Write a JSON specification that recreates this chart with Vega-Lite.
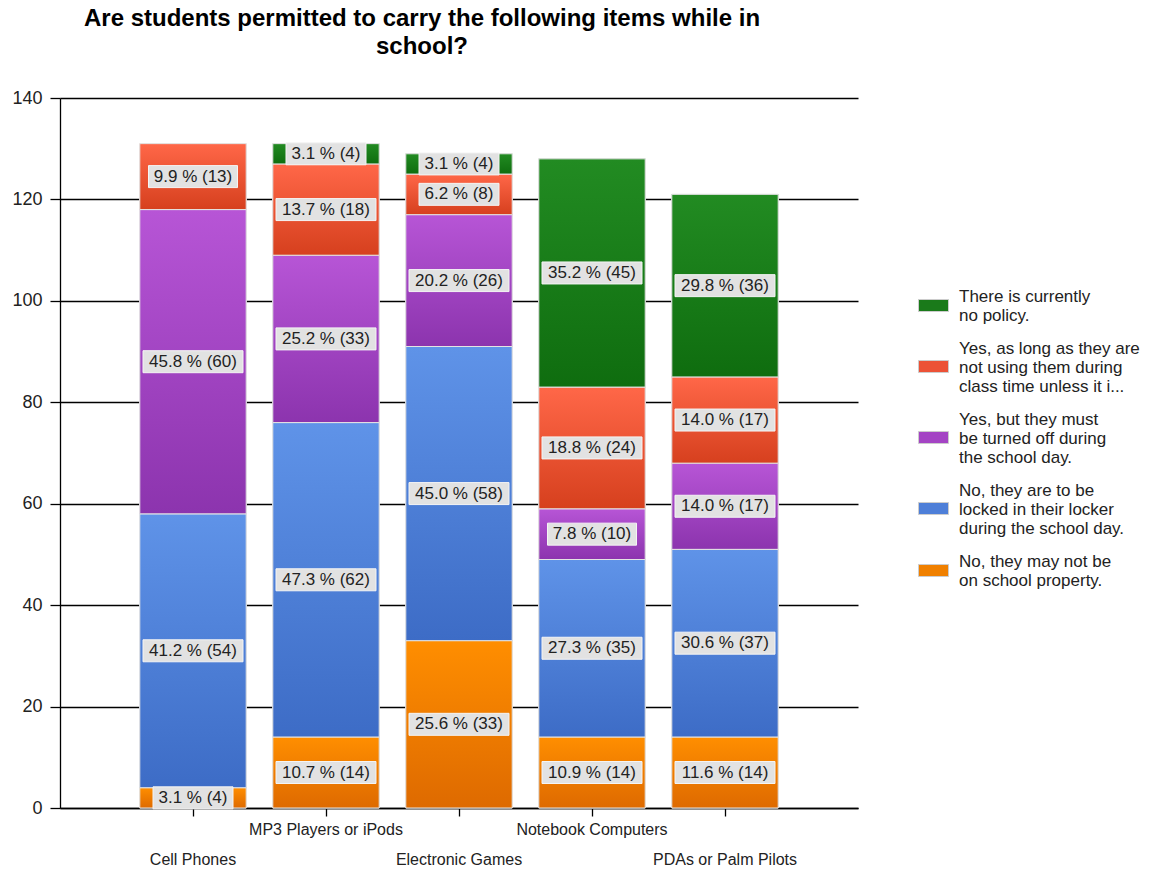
{
  "$schema": "https://vega.github.io/schema/vega-lite/v6.json",
  "width": 798,
  "height": 710,
  "autosize": {"type": "none"},
  "padding": {"left": 60, "top": 98, "right": 298, "bottom": 63},
  "background": "white",
  "title": {
    "text": ["Are students permitted to carry the following items while in", "school?"],
    "font": "Liberation Sans",
    "fontSize": 24,
    "fontWeight": "bold",
    "color": "black",
    "anchor": "middle",
    "dx": -37,
    "offset": 30,
    "lineHeight": 28
  },
  "data": {
    "values": [
      {"item": "Cell Phones", "series": "No, they may not be on school property.", "count": 4, "pct": 3.1},
      {"item": "Cell Phones", "series": "No, they are to be locked in their locker during the school day.", "count": 54, "pct": 41.2},
      {"item": "Cell Phones", "series": "Yes, but they must be turned off during the school day.", "count": 60, "pct": 45.8},
      {"item": "Cell Phones", "series": "Yes, as long as they are not using them during class time unless it i...", "count": 13, "pct": 9.9},
      {"item": "MP3 Players or iPods", "series": "No, they may not be on school property.", "count": 14, "pct": 10.7},
      {"item": "MP3 Players or iPods", "series": "No, they are to be locked in their locker during the school day.", "count": 62, "pct": 47.3},
      {"item": "MP3 Players or iPods", "series": "Yes, but they must be turned off during the school day.", "count": 33, "pct": 25.2},
      {"item": "MP3 Players or iPods", "series": "Yes, as long as they are not using them during class time unless it i...", "count": 18, "pct": 13.7},
      {"item": "MP3 Players or iPods", "series": "There is currently no policy.", "count": 4, "pct": 3.1},
      {"item": "Electronic Games", "series": "No, they may not be on school property.", "count": 33, "pct": 25.6},
      {"item": "Electronic Games", "series": "No, they are to be locked in their locker during the school day.", "count": 58, "pct": 45.0},
      {"item": "Electronic Games", "series": "Yes, but they must be turned off during the school day.", "count": 26, "pct": 20.2},
      {"item": "Electronic Games", "series": "Yes, as long as they are not using them during class time unless it i...", "count": 8, "pct": 6.2},
      {"item": "Electronic Games", "series": "There is currently no policy.", "count": 4, "pct": 3.1},
      {"item": "Notebook Computers", "series": "No, they may not be on school property.", "count": 14, "pct": 10.9},
      {"item": "Notebook Computers", "series": "No, they are to be locked in their locker during the school day.", "count": 35, "pct": 27.3},
      {"item": "Notebook Computers", "series": "Yes, but they must be turned off during the school day.", "count": 10, "pct": 7.8},
      {"item": "Notebook Computers", "series": "Yes, as long as they are not using them during class time unless it i...", "count": 24, "pct": 18.8},
      {"item": "Notebook Computers", "series": "There is currently no policy.", "count": 45, "pct": 35.2},
      {"item": "PDAs or Palm Pilots", "series": "No, they may not be on school property.", "count": 14, "pct": 11.6},
      {"item": "PDAs or Palm Pilots", "series": "No, they are to be locked in their locker during the school day.", "count": 37, "pct": 30.6},
      {"item": "PDAs or Palm Pilots", "series": "Yes, but they must be turned off during the school day.", "count": 17, "pct": 14.0},
      {"item": "PDAs or Palm Pilots", "series": "Yes, as long as they are not using them during class time unless it i...", "count": 17, "pct": 14.0},
      {"item": "PDAs or Palm Pilots", "series": "There is currently no policy.", "count": 36, "pct": 29.8}
    ]
  },
  "transform": [
    {"calculate": "indexof(['No, they may not be on school property.', 'No, they are to be locked in their locker during the school day.', 'Yes, but they must be turned off during the school day.', 'Yes, as long as they are not using them during class time unless it i...', 'There is currently no policy.'], datum.series)", "as": "k"},
    {"stack": "count", "groupby": ["item"], "sort": [{"field": "k", "order": "ascending"}], "as": ["y0", "y1"]},
    {"calculate": "(datum.y0 + datum.y1) / 2", "as": "ymid"},
    {"calculate": "format(datum.pct, '.1f') + ' % (' + datum.count + ')'", "as": "label"}
  ],
  "encoding": {
    "x": {
      "field": "item",
      "type": "nominal",
      "sort": ["Cell Phones", "MP3 Players or iPods", "Electronic Games", "Notebook Computers", "PDAs or Palm Pilots"],
      "scale": {"paddingInner": 0.2, "paddingOuter": 0.6},
      "axis": {
        "title": null,
        "labelAngle": 0,
        "labelFont": "Liberation Sans",
        "labelFontSize": 16,
        "labelColor": "#222",
        "domainColor": "black",
        "domainWidth": 1.3,
        "tickColor": "black",
        "tickWidth": 1.3,
        "tickSize": 8,
        "labelPadding": {"condition": {"test": "datum.value == 'MP3 Players or iPods' || datum.value == 'Notebook Computers'", "value": 5}, "value": 35}
      }
    },
    "y": {
      "field": "y0",
      "type": "quantitative",
      "scale": {"domain": [0, 140], "nice": false},
      "axis": {
        "title": null,
        "values": [0, 20, 40, 60, 80, 100, 120, 140],
        "grid": true,
        "gridColor": "black",
        "gridWidth": 1.3,
        "domainColor": "black",
        "domainWidth": 1.3,
        "tickColor": "black",
        "tickWidth": 1.3,
        "tickSize": 10,
        "labelPadding": 8,
        "labelFont": "Liberation Sans",
        "labelFontSize": 18,
        "labelColor": "#222"
      }
    },
    "y2": {"field": "y1"}
  },
  "layer": [
    {
      "mark": {"type": "bar", "stroke": "#e4e4e4", "strokeWidth": 1},
      "encoding": {
        "color": {
          "field": "series",
          "type": "nominal",
          "scale": {
            "domain": ["There is currently no policy.", "Yes, as long as they are not using them during class time unless it i...", "Yes, but they must be turned off during the school day.", "No, they are to be locked in their locker during the school day.", "No, they may not be on school property."],
            "range": ["#1A7A1A", "#EC5236", "#A444C4", "#4E7FD8", "#F08000"]
          },
          "legend": {
            "title": null,
            "orient": "none",
            "legendX": 858,
            "legendY": 192,
            "symbolType": "M-1,-0.4H1V0.4H-1Z",
            "symbolSize": 900,
            "symbolStrokeColor": "#cccccc",
            "symbolStrokeWidth": 1,
            "symbolOpacity": 1,
            "labelFont": "Liberation Sans",
            "labelFontSize": 17,
            "labelColor": "#222",
            "labelLineHeight": 18,
            "labelOffset": 10,
            "labelLimit": 300,
            "rowPadding": 15,
            "labelExpr": "{'There is currently no policy.': ['There is currently', 'no policy.'], 'Yes, as long as they are not using them during class time unless it i...': ['Yes, as long as they are', 'not using them during', 'class time unless it i...'], 'Yes, but they must be turned off during the school day.': ['Yes, but they must', 'be turned off during', 'the school day.'], 'No, they are to be locked in their locker during the school day.': ['No, they are to be', 'locked in their locker', 'during the school day.'], 'No, they may not be on school property.': ['No, they may not be', 'on school property.']}[datum.label]",
            "encode": {
              "labels": {
                "update": {
                  "dy": {"signal": "indexof(['There is currently no policy.', 'No, they may not be on school property.'], datum.value) >= 0 ? -9 : -18"}
                }
              }
            }
          }
        }
      }
    },
    {
      "mark": {"type": "bar", "stroke": "#e4e4e4", "strokeWidth": 1},
      "encoding": {
        "detail": {"field": "series"},
        "fill": {
          "condition": [
            {"test": "datum.k == 0", "value": {"gradient": "linear", "x1": 0, "y1": 0, "x2": 0, "y2": 1, "stops": [{"offset": 0, "color": "#FF8E00"}, {"offset": 1, "color": "#DE6A00"}]}},
            {"test": "datum.k == 1", "value": {"gradient": "linear", "x1": 0, "y1": 0, "x2": 0, "y2": 1, "stops": [{"offset": 0, "color": "#5F93E8"}, {"offset": 1, "color": "#3D6CC6"}]}},
            {"test": "datum.k == 2", "value": {"gradient": "linear", "x1": 0, "y1": 0, "x2": 0, "y2": 1, "stops": [{"offset": 0, "color": "#B755D6"}, {"offset": 1, "color": "#8C34AE"}]}},
            {"test": "datum.k == 3", "value": {"gradient": "linear", "x1": 0, "y1": 0, "x2": 0, "y2": 1, "stops": [{"offset": 0, "color": "#FF6748"}, {"offset": 1, "color": "#D6401E"}]}}
          ],
          "value": {"gradient": "linear", "x1": 0, "y1": 0, "x2": 0, "y2": 1, "stops": [{"offset": 0, "color": "#228B22"}, {"offset": 1, "color": "#0F6D0F"}]}
        }
      }
    },
    {
      "mark": {"type": "tick", "orient": "horizontal", "thickness": 22, "color": "#e2e2e2", "opacity": 1, "stroke": "#f4f4f4", "strokeWidth": 1},
      "encoding": {
        "y": {"field": "ymid", "type": "quantitative"},
        "y2": null,
        "size": {
          "condition": [
            {"test": "length(datum.label) >= 11", "value": 100},
            {"test": "length(datum.label) == 10", "value": 89}
          ],
          "value": 80
        }
      }
    },
    {
      "mark": {"type": "text", "font": "Liberation Sans", "fontSize": 17, "color": "#222", "baseline": "middle", "align": "center"},
      "encoding": {
        "y": {"field": "ymid", "type": "quantitative"},
        "y2": null,
        "text": {"field": "label"}
      }
    }
  ],
  "config": {
    "view": {"stroke": null},
    "axis": {"gridOpacity": 1}
  }
}
